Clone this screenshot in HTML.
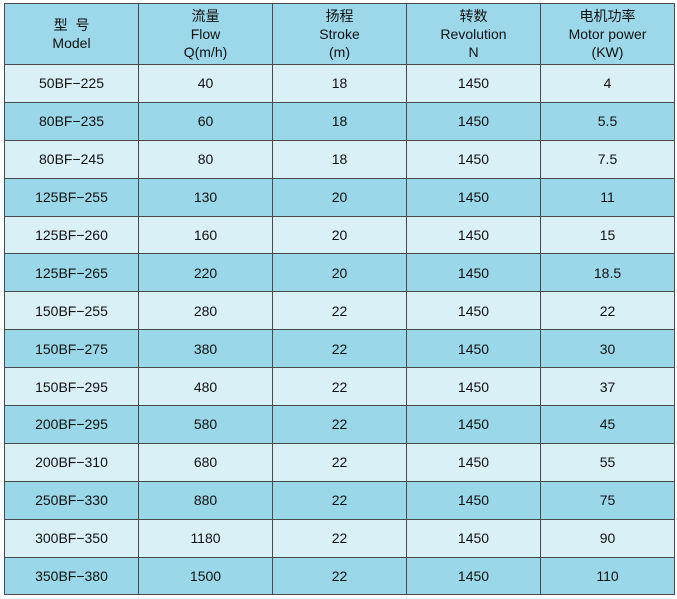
<!DOCTYPE html>
<html><head><meta charset="utf-8"><style>
body{margin:0;background:#fff;width:677px;height:599px;overflow:hidden}
table{position:absolute;left:4px;top:3px;border-collapse:collapse;width:670px;table-layout:fixed;font-family:"Liberation Sans","Noto Sans CJK SC",sans-serif;font-size:14px;color:#111}
td{border:1px solid #4a4a4a;text-align:center;padding:0;height:36.9px;line-height:16px}
tr.h td{height:60px;background:#9dd8ea;line-height:18px}
tr.l td{background:#daf0f7}
tr.d td{background:#9ad8e9}
</style></head><body>
<table>
<colgroup><col style="width:134px"><col style="width:134px"><col style="width:134px"><col style="width:134px"><col style="width:134px"></colgroup>
<tr class="h"><td>型&nbsp;&nbsp;号<br>Model</td><td>流量<br>Flow<br>Q(m/h)</td><td>扬程<br>Stroke<br>(m)</td><td>转数<br>Revolution<br>N</td><td>电机功率<br>Motor power<br>(KW)</td></tr>
<tr class="l"><td>50BF−225</td><td>40</td><td>18</td><td>1450</td><td>4</td></tr>
<tr class="d"><td>80BF−235</td><td>60</td><td>18</td><td>1450</td><td>5.5</td></tr>
<tr class="l"><td>80BF−245</td><td>80</td><td>18</td><td>1450</td><td>7.5</td></tr>
<tr class="d"><td>125BF−255</td><td>130</td><td>20</td><td>1450</td><td>11</td></tr>
<tr class="l"><td>125BF−260</td><td>160</td><td>20</td><td>1450</td><td>15</td></tr>
<tr class="d"><td>125BF−265</td><td>220</td><td>20</td><td>1450</td><td>18.5</td></tr>
<tr class="l"><td>150BF−255</td><td>280</td><td>22</td><td>1450</td><td>22</td></tr>
<tr class="d"><td>150BF−275</td><td>380</td><td>22</td><td>1450</td><td>30</td></tr>
<tr class="l"><td>150BF−295</td><td>480</td><td>22</td><td>1450</td><td>37</td></tr>
<tr class="d"><td>200BF−295</td><td>580</td><td>22</td><td>1450</td><td>45</td></tr>
<tr class="l"><td>200BF−310</td><td>680</td><td>22</td><td>1450</td><td>55</td></tr>
<tr class="d"><td>250BF−330</td><td>880</td><td>22</td><td>1450</td><td>75</td></tr>
<tr class="l"><td>300BF−350</td><td>1180</td><td>22</td><td>1450</td><td>90</td></tr>
<tr class="d"><td>350BF−380</td><td>1500</td><td>22</td><td>1450</td><td>110</td></tr>
</table>
</body></html>
